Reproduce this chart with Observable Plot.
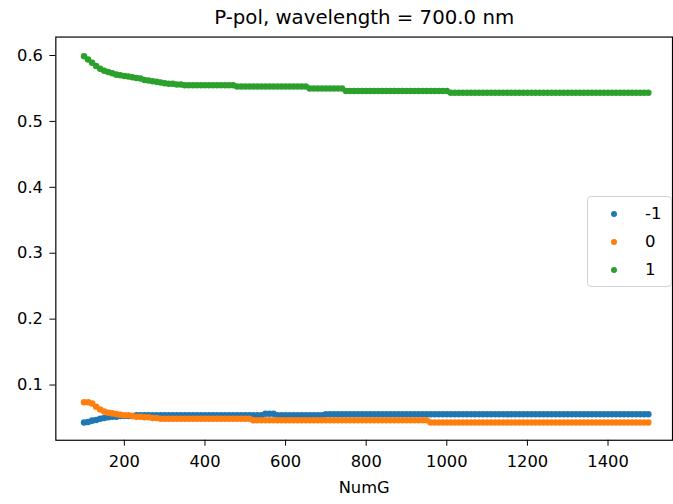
<!DOCTYPE html>
<html><head><meta charset="utf-8">
<script src="https://cdn.jsdelivr.net/npm/d3@7"></script>
<script src="https://cdn.jsdelivr.net/npm/@observablehq/plot@0.6"></script>
<style>
html,body{margin:0;background:#fff;overflow:hidden;}
#wrap{position:relative;width:673px;height:504px;overflow:hidden;}
#chart{position:absolute;left:0;top:0;}
#legend{position:absolute;left:587px;top:196px;width:85px;height:91px;box-sizing:border-box;border:1px solid #d3d3d3;border-radius:4px;background:rgba(255,255,255,0.85);font-family:"DejaVu Sans";font-size:16.5px;color:#000;}
.row{position:absolute;left:0;height:20px;width:100%;}
.dot{position:absolute;left:23px;top:7px;width:6px;height:6px;border-radius:50%;}
.lab{position:absolute;left:57px;top:0;line-height:20px;}
</style>
</head><body>
<div id="wrap"><div id="chart"></div><div id="legend"></div></div>
<script>
const title = "P-pol, wavelength = 700.0 nm";
const xLabel = "NumG";
const seriesNames = ["-1", "0", "1"];
const colors = ["#1f77b4", "#ff7f0e", "#2ca02c"];
const xTicks = [200, 400, 600, 800, 1000, 1200, 1400];
const yTicks = [0.1, 0.2, 0.3, 0.4, 0.5, 0.6];

const numG = [100,110,120,130,140,150,160,170,180,190,200,210,220,230,240,250,260,270,280,290,
300,310,320,330,340,350,360,370,380,390,400,410,420,430,440,450,460,470,480,490,
500,510,520,530,540,550,560,570,580,590,600,610,620,630,640,650,660,670,680,690,
700,710,720,730,740,750,760,770,780,790,800,810,820,830,840,850,860,870,880,890,
900,910,920,930,940,950,960,970,980,990,1000,1010,1020,1030,1040,1050,1060,1070,1080,1090,
1100,1110,1120,1130,1140,1150,1160,1170,1180,1190,1200,1210,1220,1230,1240,1250,1260,1270,1280,1290,
1300,1310,1320,1330,1340,1350,1360,1370,1380,1390,1400,1410,1420,1430,1440,1450,1460,1470,1480,1490,1500];

const orderMinus1 = [0.043,0.044,0.046,0.047,0.049,0.050,0.051,0.052,0.052,0.053,0.053,0.053,0.053,0.054,0.054,0.054,0.054,0.054,0.054,0.054,
0.054,0.054,0.054,0.054,0.054,0.054,0.054,0.054,0.054,0.054,0.054,0.054,0.054,0.054,0.054,0.054,0.054,0.054,0.054,0.054,
0.054,0.054,0.054,0.054,0.054,0.0565,0.0565,0.0565,0.054,0.054,0.054,0.054,0.054,0.054,0.054,0.054,0.054,0.054,0.054,0.054,
0.0556,0.0556,0.0556,0.0556,0.0556,0.0556,0.0556,0.0556,0.0556,0.0556,0.0556,0.0556,0.0556,0.0556,0.0556,0.0556,0.0556,0.0556,0.0556,0.0556,
0.0556,0.0556,0.0556,0.0556,0.0556,0.0556,0.0556,0.0556,0.0556,0.0556,0.0556,0.0556,0.0556,0.0556,0.0556,0.0556,0.0556,0.0556,0.0556,0.0556,
0.0556,0.0556,0.0556,0.0556,0.0556,0.0556,0.0556,0.0556,0.0556,0.0556,0.0556,0.0556,0.0556,0.0556,0.0556,0.0556,0.0556,0.0556,0.0556,0.0556,
0.0556,0.0556,0.0556,0.0556,0.0556,0.0556,0.0556,0.0556,0.0556,0.0556,0.0556,0.0556,0.0556,0.0556,0.0556,0.0556,0.0556,0.0556,0.0556,0.0556,0.0556];

const order0 = [0.074,0.074,0.072,0.067,0.063,0.060,0.058,0.057,0.056,0.055,0.054,0.054,0.053,0.052,0.052,0.051,0.051,0.050,0.050,0.049,
0.049,0.049,0.049,0.049,0.049,0.049,0.049,0.049,0.049,0.049,0.049,0.049,0.049,0.049,0.049,0.049,0.049,0.049,0.049,0.049,
0.049,0.049,0.0465,0.0465,0.0465,0.0465,0.0465,0.0465,0.0465,0.0465,0.0465,0.0465,0.0465,0.0465,0.0465,0.0465,0.0465,0.0465,0.0465,0.0465,
0.0465,0.0465,0.0465,0.0465,0.0465,0.0465,0.0465,0.0465,0.0465,0.0465,0.0465,0.0465,0.0465,0.0465,0.0465,0.0465,0.0465,0.0465,0.0465,0.0465,
0.0465,0.0465,0.0465,0.0465,0.0465,0.0465,0.0432,0.0432,0.0432,0.0432,0.0432,0.0432,0.0432,0.0432,0.0432,0.0432,0.0432,0.0432,0.0432,0.0432,
0.0432,0.0432,0.0432,0.0432,0.0432,0.0432,0.0432,0.0432,0.0432,0.0432,0.0432,0.0432,0.0432,0.0432,0.0432,0.0432,0.0432,0.0432,0.0432,0.0432,
0.0432,0.0432,0.0432,0.0432,0.0432,0.0432,0.0432,0.0432,0.0432,0.0432,0.0432,0.0432,0.0432,0.0432,0.0432,0.0432,0.0432,0.0432,0.0432,0.0432,0.0432];

const order1 = [0.599,0.594,0.589,0.584,0.580,0.577,0.575,0.573,0.571,0.570,0.569,0.568,0.567,0.566,0.565,0.563,0.562,0.561,0.560,0.559,
0.558,0.557,0.557,0.556,0.556,0.555,0.555,0.555,0.555,0.555,0.555,0.555,0.555,0.555,0.555,0.555,0.555,0.555,0.553,0.553,
0.553,0.553,0.553,0.553,0.553,0.553,0.553,0.553,0.553,0.553,0.553,0.553,0.553,0.553,0.553,0.553,0.550,0.550,0.550,0.550,
0.550,0.550,0.550,0.550,0.550,0.546,0.546,0.546,0.546,0.546,0.546,0.546,0.546,0.546,0.546,0.546,0.546,0.546,0.546,0.546,
0.546,0.546,0.546,0.546,0.546,0.546,0.546,0.546,0.546,0.546,0.546,0.5435,0.5435,0.5435,0.5435,0.5435,0.5435,0.5435,0.5435,0.5435,
0.5435,0.5435,0.5435,0.5435,0.5435,0.5435,0.5435,0.5435,0.5435,0.5435,0.5435,0.5435,0.5435,0.5435,0.5435,0.5435,0.5435,0.5435,0.5435,0.5435,
0.5435,0.5435,0.5435,0.5435,0.5435,0.5435,0.5435,0.5435,0.5435,0.5435,0.5435,0.5435,0.5435,0.5435,0.5435,0.5435,0.5435,0.5435,0.5435,0.5435,0.5435];

const seriesValues = [orderMinus1, order0, order1];

const dotMarks = seriesValues.map((vals, k) =>
  Plot.dot(numG.map((g, i) => ({g, v: vals[i]})), {x: "g", y: "v", r: 3.3, fill: colors[k], stroke: "none"})
);

const chart = Plot.plot({
  width: 681, height: 504,
  marginLeft: 56, marginRight: 1, marginTop: 37, marginBottom: 59,
  style: {fontFamily: "DejaVu Sans", fontSize: "16.5px", color: "#000", background: "#fff"},
  x: {domain: [30, 1560]},
  y: {domain: [0.0162, 0.628]},
  marks: [
    ...dotMarks,
    Plot.frame({stroke: "#000", strokeWidth: 1.2}),
    Plot.axisX({ticks: xTicks, tickSize: 6, tickPadding: 9, tickFormat: d => String(d), label: null, fontSize: 16.5}),
    Plot.axisY({ticks: yTicks, tickSize: 6, tickPadding: 7, tickFormat: d => d.toFixed(1), label: null, fontSize: 16.5}),
    Plot.text([xLabel], {frameAnchor: "bottom", lineAnchor: "middle", dy: 48, fontSize: 16.5, fill: "#000"}),
    Plot.text([title], {frameAnchor: "top", lineAnchor: "middle", dy: -20, fontSize: 20, fill: "#000"})
  ]
});
document.getElementById("chart").appendChild(chart);

const legend = document.getElementById("legend");
seriesNames.forEach((name, k) => {
  const row = document.createElement("div");
  row.className = "row";
  row.style.top = (7 + k * 28) + "px";
  const dot = document.createElement("div");
  dot.className = "dot";
  dot.style.background = colors[k];
  const lab = document.createElement("div");
  lab.className = "lab";
  lab.textContent = name;
  row.appendChild(dot); row.appendChild(lab);
  legend.appendChild(row);
});
</script>
</body></html>
